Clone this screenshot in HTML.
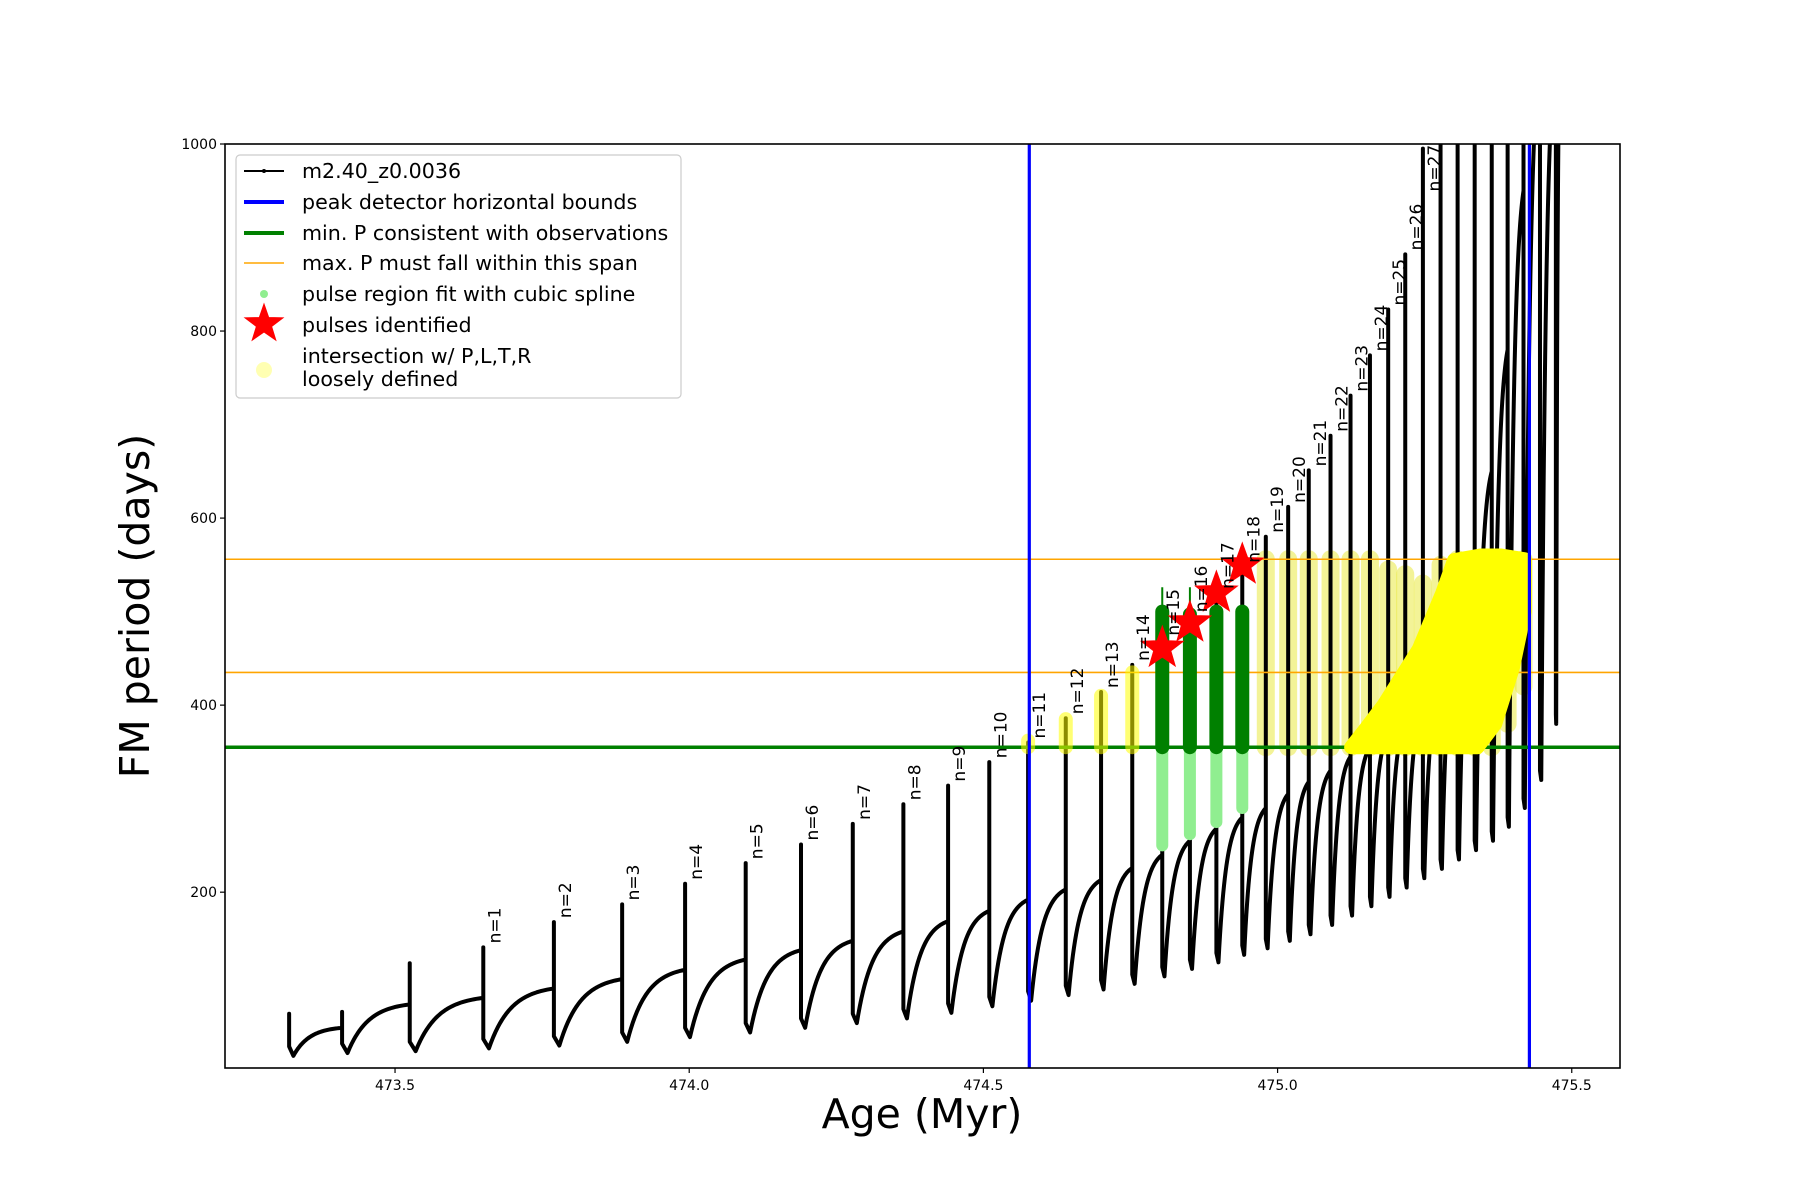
<!DOCTYPE html>
<html><head><meta charset="utf-8"><style>
html,body{margin:0;padding:0;background:#fff;}
svg{display:block;font-family:"DejaVu Sans","Liberation Sans",sans-serif;}
</style></head><body>
<svg id="chart" width="1800" height="1200" viewBox="0 0 1800 1200">
<defs><clipPath id="plotclip"><rect x="225" y="144" width="1395" height="924"/></clipPath></defs>
<rect x="0" y="0" width="1800" height="1200" fill="#fff"/>
<g id="plot" clip-path="url(#plotclip)"></g>
<g id="axes"></g>
<rect x="225" y="144" width="1395" height="924" fill="none" stroke="#000" stroke-width="1.6"/>
<text x="149" y="606" font-size="41" text-anchor="middle" transform="rotate(-90 149 606)">FM period (days)</text>
<text x="922" y="1128" font-size="41" text-anchor="middle">Age (Myr)</text>
<g>
<rect x="236" y="155" width="445" height="243" rx="4" fill="#fff" fill-opacity="0.85" stroke="#ccc" stroke-width="1.2"/>
<g font-size="20.6" fill="#000">
<line x1="244" y1="171" x2="284" y2="171" stroke="#000" stroke-width="2"/>
<circle cx="264" cy="171" r="2" fill="#000"/>
<text x="302" y="178">m2.40_z0.0036</text>
<line x1="244" y1="202" x2="284" y2="202" stroke="#0000ff" stroke-width="4"/>
<text x="302" y="209">peak detector horizontal bounds</text>
<line x1="244" y1="233" x2="284" y2="233" stroke="#008000" stroke-width="4"/>
<text x="302" y="240">min. P consistent with observations</text>
<line x1="244" y1="263" x2="284" y2="263" stroke="orange" stroke-width="1.5"/>
<text x="302" y="270">max. P must fall within this span</text>
<circle cx="264" cy="294" r="4" fill="#90ee90"/>
<text x="302" y="301">pulse region fit with cubic spline</text>
<polygon id="legstar" fill="red" stroke="red"/>
<text x="302" y="332">pulses identified</text>
<circle cx="264" cy="370" r="8" fill="yellow" fill-opacity="0.3"/>
<text x="302" y="363">intersection w/ P,L,T,R</text>
<text x="302" y="386">loosely defined</text>
</g></g>
</svg>
<script>
// ---- data ----
const pulseAges = [473.32,473.41,473.525,473.65,473.77,473.886,473.993,474.096,474.19,474.278,474.364,474.44,474.51,474.576,474.64,474.70,474.753,474.804,474.851,474.896,474.94,474.98,475.018,475.053,475.09,475.124,475.157,475.188,475.217,475.247,475.277,475.306,475.335,475.364,475.391,475.418,475.446,475.473];
const spikeP = [70,72,124,141,168,187,209,231,251,273,294,314,339,360,386,414,443,470,495,520,548,580,612,651,688,731,774,823,882,995,1100,1100,1100,1100,1100,1100,1100,1100];
const dipP = [25,28,30,33,36,40,45,50,55,60,65,71,78,84,90,96,102,110,118,125,133,140,148,155,165,175,185,195,205,215,225,235,245,255,270,290,320,380];
const plateauP = [55,80,87,97,107,117,128,138,148,158,169,180,192,203,213,226,240,255,268,280,290,305,318,330,345,355,370,380,395,420,470,540,650,780,950,1100,1100,1100];
const labelStart = 3;
const labelCount = 27;
const minP = 355;
const maxSpan = [435, 556];
const blueAges = [474.578, 475.428];
const greenAges = [474.804,474.851,474.896,474.94];
const greenTop = [500,497,500,500];
const greenThinTop = [526,526,0,0];
const lightLow = [250,262,275,290];
const starP = [461,488,520,550];
const smallYAges = [474.576,474.64,474.70,474.753];
const smallYTop = [362,385,410,435];
const faintYAges = [474.98,475.018,475.053,475.09,475.124,475.157,475.188,475.217,475.247,475.277,475.306,475.335,475.364,475.391,475.418];
const faintYTop = [556,556,556,556,556,556,545,540,530,550,556,556,556,556,556];
const faintYBot = [355,355,355,355,355,355,355,355,355,355,355,355,355,380,420];
const brightAge = [475.125,475.15,475.18,475.21,475.24,475.26,475.28,475.30,475.345,475.38,475.42,475.42,475.40,475.37,475.34];
const brightP = [355,375,400,430,460,490,520,555,560,560,556,500,440,380,355];
const xTicks = [473.5,474.0,474.5,475.0,475.5];
const xTickLabels = ["473.5","474.0","474.5","475.0","475.5"];
const yTicks = [200,400,600,800,1000];
const yTickLabels = ["200","400","600","800","1000"];

// ---- scales ----
const X0=225,X1=1620,Y0=144,Y1=1068, xmin=473.211, xmax=475.582, ymin=12, ymax=1000;
const sx = v => X0 + (v-xmin)/(xmax-xmin)*(X1-X0);
const sy = v => Y1 - (v-ymin)/(ymax-ymin)*(Y1-Y0);
const NS="http://www.w3.org/2000/svg";
const plot=document.getElementById('plot'), axes=document.getElementById('axes');
function mk(tag, attrs, parent){const e=document.createElementNS(NS,tag);for(const k in attrs)e.setAttribute(k,attrs[k]);parent.appendChild(e);return e;}

faintYAges.forEach((a,i)=>{
  const e=mk('line',{x1:sx(a),x2:sx(a),y1:sy(faintYBot[i]),y2:sy(faintYTop[i]),stroke:'#e8e830','stroke-opacity':0.5,'stroke-width':18,'stroke-linecap':'round'},plot);
  
  
});

let d='';
for(let i=0;i<pulseAges.length;i++){
  const t=pulseAges[i], tn = i+1<pulseAges.length? pulseAges[i+1] : 475.48;
  const prevPl = i>0? plateauP[i-1] : dipP[i]+20;
  d += `M${sx(t)},${sy(prevPl)} L${sx(t)},${sy(spikeP[i])} L${sx(t)},${sy(dipP[i]+10)} `;
  const gap=tn-t, t1=t+gap*0.08;
  d += `L${sx(t1)},${sy(dipP[i])} `;
  const N=30;
  for(let k=1;k<=N;k++){
    const u=k/N, f=(1-Math.exp(-3*u))/(1-Math.exp(-3));
    d += `L${sx(t1+(tn-t1)*u)},${sy(dipP[i]+(plateauP[i]-dipP[i])*f)} `;
  }
}
const track=mk('path',{d:d,fill:'none',stroke:'#000','stroke-width':4,'stroke-linejoin':'round'},plot);



const g1=mk('line',{x1:X0,x2:X1,y1:sy(minP),y2:sy(minP),stroke:'#008000','stroke-width':3.5},plot);


maxSpan.forEach(v=>{
  const o=mk('line',{x1:X0,x2:X1,y1:sy(v),y2:sy(v),stroke:'orange','stroke-width':1.6},plot);
  
  
});

smallYAges.forEach((a,i)=>{
  const e=mk('line',{x1:sx(a),x2:sx(a),y1:sy(minP),y2:sy(smallYTop[i]),stroke:'yellow','stroke-opacity':0.55,'stroke-width':14,'stroke-linecap':'round'},plot);
  
  
});

const bp=brightAge.map((a,i)=>sx(a)+','+sy(brightP[i])).join(' ');
const br=mk('polygon',{points:bp,fill:'yellow','stroke':'yellow','stroke-width':14,'stroke-linejoin':'round'},plot);



greenAges.forEach((a,i)=>{
  const l=mk('line',{x1:sx(a),x2:sx(a),y1:sy(lightLow[i]),y2:sy(minP),stroke:'#90ee90','stroke-width':12,'stroke-linecap':'round'},plot);
  
  
  if(greenThinTop[i]>0){
    const t=mk('line',{x1:sx(a),x2:sx(a),y1:sy(minP),y2:sy(greenThinTop[i]),stroke:'#008000','stroke-width':2},plot);
    
    
  }
  const g=mk('line',{x1:sx(a),x2:sx(a),y1:sy(minP),y2:sy(greenTop[i]),stroke:'#008000','stroke-width':14,'stroke-linecap':'round'},plot);
  
  
});

function starPts(cx,cy,R,r){const p=[];for(let k=0;k<10;k++){const ang=-Math.PI/2+k*Math.PI/5, rr=k%2?r:R;p.push((cx+rr*Math.cos(ang)).toFixed(1)+','+(cy+rr*Math.sin(ang)).toFixed(1));}return p.join(' ');}
greenAges.forEach((a,i)=>{
  const s=mk('polygon',{points:starPts(sx(a),sy(starP[i]),22,9),fill:'red',stroke:'red','stroke-width':1},plot);
  
  
});
document.getElementById('legstar').setAttribute('points',starPts(264,324,20,8));

blueAges.forEach(a=>{
  const b=mk('line',{x1:sx(a),x2:sx(a),y1:Y0,y2:Y1,stroke:'#0000ff','stroke-width':3.2},plot);
  
  
});

for(let n=1;n<=labelCount;n++){
  const i=labelStart+n-1, x=sx(pulseAges[i])+17, y=sy(Math.min(spikeP[i],945))-4;
  const t=mk('text',{x:x,y:y,'font-size':17,transform:`rotate(-90 ${x} ${y})`},plot);
  t.textContent='n='+n;
  
  
}

xTicks.forEach((v,i)=>{
  mk('line',{x1:sx(v),x2:sx(v),y1:Y1,y2:Y1+5,stroke:'#000','stroke-width':1.2},axes);
  const t=mk('text',{x:sx(v),y:Y1+22,'font-size':14,'text-anchor':'middle'},axes);
  t.textContent=xTickLabels[i];
  
  
});
yTicks.forEach((v,i)=>{
  mk('line',{x1:X0-5,x2:X0,y1:sy(v),y2:sy(v),stroke:'#000','stroke-width':1.2},axes);
  const t=mk('text',{x:X0-8,y:sy(v)+5,'font-size':14,'text-anchor':'end'},axes);
  t.textContent=yTickLabels[i];
  
  
});
</script>
</body></html>
